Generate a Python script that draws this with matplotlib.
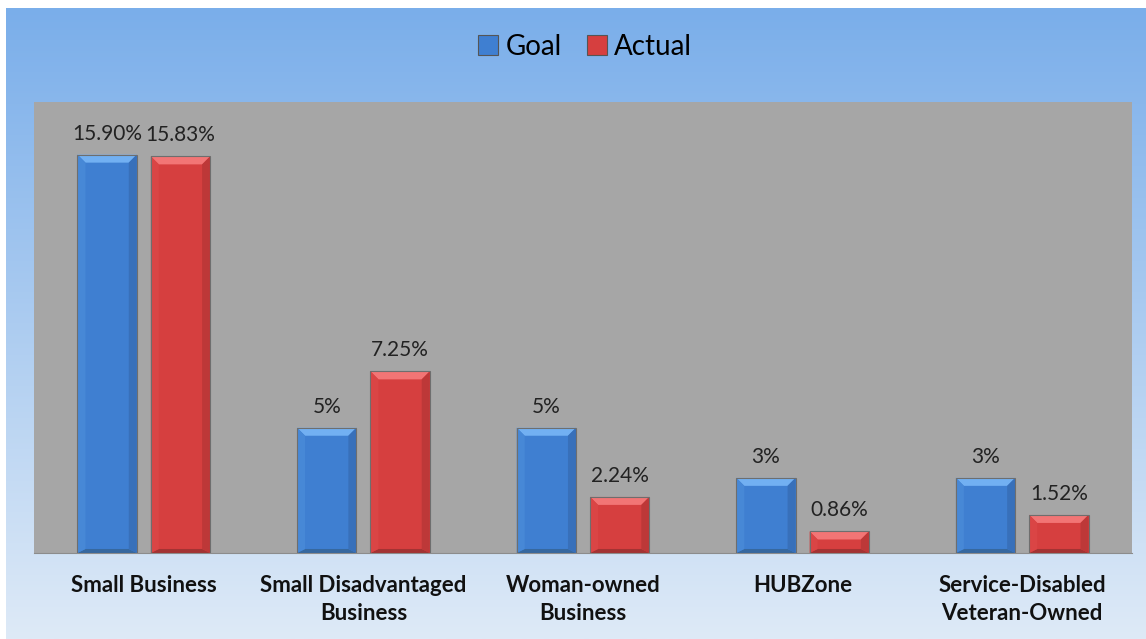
import numpy as np
import matplotlib.pyplot as plt
from matplotlib.patches import Polygon, Rectangle

plt.rcParams['font.family'] = ['Lato', 'DejaVu Sans']

categories = ['Small Business', 'Small Disadvantaged\nBusiness', 'Woman-owned\nBusiness',
              'HUBZone', 'Service-Disabled\nVeteran-Owned']
goal = [15.90, 5, 5, 3, 3]
actual = [15.83, 7.25, 2.24, 0.86, 1.52]
goal_labels = ['15.90%', '5%', '5%', '3%', '3%']
actual_labels = ['15.83%', '7.25%', '2.24%', '0.86%', '1.52%']

fig = plt.figure(figsize=(11.46, 6.39), dpi=100)
fig.patch.set_facecolor('white')

# gradient background (thin white margin at top/left like the original)
bg = fig.add_axes([6 / 1146, 0, 1 - 6 / 1146, 1 - 8 / 639])
bg.axis('off')
top = np.array([122, 174, 234]) / 255
bot = np.array([222, 234, 247]) / 255
t = np.linspace(0, 1, 256)[:, None]
grad = top * (1 - t) + bot * t
bg.imshow(grad[:, None, :], aspect='auto', extent=[0, 1, 0, 1])

ax = fig.add_axes([34 / 1146, 1 - 553 / 639, (1132 - 34) / 1146, (553 - 102) / 639])
ax.set_facecolor('#a6a6a6')
ax.set_ylim(0, 18)
ax.set_xlim(-0.5, len(categories) - 0.5)
for s in ['top', 'left', 'right']:
    ax.spines[s].set_visible(False)
ax.spines['bottom'].set_color('#8c8c8c')
ax.set_yticks([])
ax.set_xticks(range(len(categories)))
ax.set_xticklabels(categories, fontsize=16, fontweight='bold', color='#111111', linespacing=1.4)
ax.tick_params(axis='x', length=0, pad=16)

x = np.arange(len(categories))
w = 0.27
off = 0.167


def bevel(bars, light, dark, side_l, side_r):
    dx = 8 / 219.6
    dy = 8 / 25.0
    for b in bars:
        x0, y0 = b.get_x(), b.get_y()
        x1, y1 = x0 + b.get_width(), y0 + b.get_height()
        d = min(dy, (y1 - y0) / 2.5)
        db = d * 0.5
        ax.add_patch(Polygon([[x0, y1], [x1, y1], [x1 - dx, y1 - d], [x0 + dx, y1 - d]],
                             closed=True, facecolor=light, edgecolor='none', zorder=3))
        ax.add_patch(Polygon([[x0, y0], [x1, y0], [x1 - dx, y0 + db], [x0 + dx, y0 + db]],
                             closed=True, facecolor=dark, edgecolor='none', zorder=3))
        ax.add_patch(Polygon([[x0, y0], [x0, y1], [x0 + dx, y1 - d], [x0 + dx, y0 + db]],
                             closed=True, facecolor=side_l, edgecolor='none', zorder=3))
        ax.add_patch(Polygon([[x1, y0], [x1, y1], [x1 - dx, y1 - d], [x1 - dx, y0 + db]],
                             closed=True, facecolor=side_r, edgecolor='none', zorder=3))
        ax.add_patch(Rectangle((x0, y0), x1 - x0, y1 - y0, facecolor='none',
                               edgecolor='#6e6e6e', linewidth=0.8, zorder=4))


gb = ax.bar(x - off, goal, w, color='#3f7fd1', zorder=2, label='Goal')
ab = ax.bar(x + off, actual, w, color='#d63f3f', zorder=2, label='Actual')
bevel(gb, '#72b0f2', '#36689f', '#4788d6', '#3870ba')
bevel(ab, '#f27575', '#a33333', '#da4545', '#bd3838')

for b, lab in zip(gb, goal_labels):
    ax.annotate(lab, (b.get_x() + b.get_width() / 2, b.get_height()), xytext=(0, 8),
                textcoords='offset points', ha='center', va='bottom', fontsize=15, color='#222222')
for b, lab in zip(ab, actual_labels):
    ax.annotate(lab, (b.get_x() + b.get_width() / 2, b.get_height()), xytext=(0, 8),
                textcoords='offset points', ha='center', va='bottom', fontsize=15, color='#222222')

leg = fig.legend(handles=[gb, ab], labels=['Goal', 'Actual'], loc='center',
                 bbox_to_anchor=(585 / 1146, 1 - 47 / 639), ncol=2, frameon=False,
                 fontsize=20, handlelength=0.75, handleheight=0.75, handletextpad=0.25,
                 columnspacing=0.9)
for h in leg.legend_handles:
    h.set_edgecolor('#555555')
    h.set_linewidth(0.8)

fig.savefig('out.png', dpi=100)
